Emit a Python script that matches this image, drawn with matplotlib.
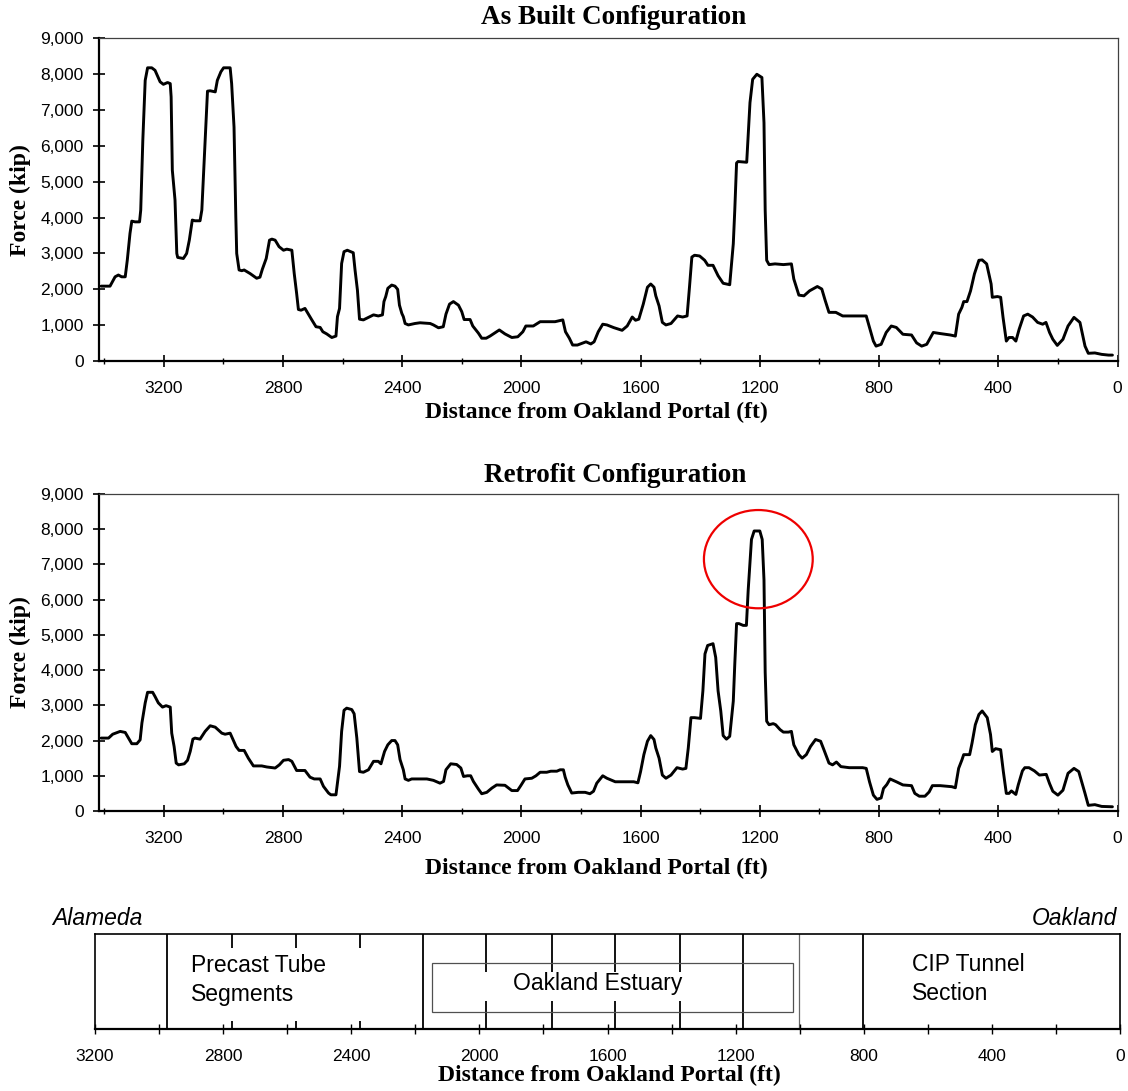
import matplotlib
matplotlib.use("Agg")
import matplotlib.pyplot as plt
from matplotlib.patches import Ellipse, Rectangle
from matplotlib.ticker import MultipleLocator, FuncFormatter

# ---------- Data ----------
# As built: distance from Oakland portal (ft) and force (kip)
AS_BUILT_FT = [
    3410, 3380, 3363, 3352, 3341, 3329, 3322, 3313, 3307, 3296, 3281, 3277, 3270, 3262, 3254,
    3240, 3229, 3212, 3201, 3187, 3178, 3175, 3171, 3162, 3156, 3153, 3134, 3123, 3114, 3104,
    3095, 3078, 3072, 3061, 3053, 3044, 3027, 3020, 3008, 2999, 2977, 2972, 2964, 2958, 2955,
    2947, 2938, 2930, 2910, 2888, 2877, 2869, 2856, 2845, 2837, 2826, 2813, 2798, 2787, 2770,
    2762, 2754, 2748, 2739, 2726, 2714, 2703, 2689, 2675, 2666, 2653, 2636, 2622, 2617, 2610,
    2603, 2595, 2584, 2564, 2558, 2550, 2543, 2530, 2513, 2496, 2480, 2466, 2461, 2455, 2448,
    2435, 2424, 2415, 2409, 2401, 2396, 2390, 2379, 2357, 2340, 2306, 2295, 2278, 2262, 2253,
    2241, 2228, 2211, 2200, 2192, 2172, 2163, 2144, 2133, 2118, 2105, 2074, 2055, 2032, 2012,
    1995, 1985, 1960, 1937, 1887, 1861, 1852, 1839, 1828, 1812, 1783, 1767, 1756, 1742, 1727,
    1713, 1690, 1662, 1645, 1628, 1617, 1606, 1591, 1577, 1566, 1555, 1549, 1538, 1527, 1515,
    1498, 1476, 1459, 1444, 1436, 1428, 1419, 1402, 1385, 1374, 1357, 1340, 1323, 1301, 1289,
    1284, 1278, 1273, 1244, 1239, 1233, 1224, 1210, 1193, 1186, 1182, 1177, 1169, 1149, 1121,
    1094, 1086, 1069, 1052, 1033, 1007, 992, 981, 968, 945, 922, 843, 832, 819, 810,
    793, 776, 759, 742, 720, 691, 674, 657, 640, 618, 595, 561, 544, 533, 522,
    516, 505, 493, 480, 465, 454, 439, 424, 420, 403, 392, 384, 373, 364, 352,
    341, 330, 315, 301, 285, 268, 251, 240, 228, 217, 202, 183, 166, 146, 126,
    109, 98, 76, 53, 30, 17,
]
AS_BUILT_KIP = [
    2090, 2090, 2350, 2400, 2350, 2350, 2820, 3560, 3900, 3880, 3880, 4210, 6150, 7820, 8170,
    8170, 8100, 7780, 7710, 7760, 7730, 7360, 5320, 4490, 3000, 2890, 2860, 3000, 3370, 3930,
    3910, 3910, 4210, 6150, 7520, 7530, 7500, 7820, 8060, 8170, 8170, 7730, 6520, 4020, 3000,
    2540, 2520, 2540, 2440, 2310, 2340, 2560, 2860, 3370, 3400, 3370, 3190, 3090, 3120, 3090,
    2440, 1890, 1440, 1420, 1470, 1300, 1150, 960, 940, 820, 760, 660, 700, 1240, 1470,
    2720, 3050, 3090, 3020, 2540, 1980, 1170, 1150, 1220, 1290, 1260, 1290, 1660, 1800, 2030,
    2120, 2090, 2000, 1560, 1330, 1240, 1050, 1010, 1050, 1070, 1050, 1010, 930, 960, 1310,
    1590, 1660, 1560, 1380, 1160, 1160, 980, 780, 640, 640, 700, 870, 760, 660, 680,
    820, 980, 980, 1100, 1100, 1150, 820, 640, 450, 450, 540, 480, 540, 820, 1030,
    1010, 935, 860, 980, 1230, 1140, 1170, 1590, 2060, 2150, 2060, 1820, 1540, 1080, 1010,
    1050, 1260, 1230, 1260, 2060, 2900, 2950, 2930, 2810, 2670, 2670, 2380, 2170, 2130, 3270,
    4210, 5520, 5560, 5540, 6270, 7200, 7850, 7990, 7900, 6640, 4210, 2810, 2690, 2710, 2690,
    2710, 2290, 1840, 1820, 1960, 2080, 2010, 1700, 1360, 1360, 1260, 1260, 940, 560, 420,
    470, 800, 980, 940, 750, 730, 510, 420, 470, 800, 770, 730, 700, 1310, 1500,
    1660, 1660, 1960, 2430, 2810, 2820, 2710, 2150, 1780, 1800, 1780, 1220, 560, 660, 660,
    560, 890, 1260, 1310, 1230, 1080, 1030, 1080, 800, 610, 440, 610, 980, 1220, 1080,
    420, 220, 230, 190, 170, 170,
]

# Retrofit
RETROFIT_FT = [
    3410, 3385, 3371, 3346, 3329, 3318, 3307, 3290, 3279, 3273, 3262, 3254, 3237, 3229, 3218,
    3204, 3192, 3178, 3173, 3165, 3158, 3150, 3131, 3120, 3111, 3102, 3095, 3078, 3061, 3044,
    3027, 3005, 2994, 2977, 2968, 2957, 2947, 2930, 2916, 2899, 2888, 2871, 2854, 2826, 2812,
    2798, 2781, 2770, 2754, 2726, 2709, 2695, 2675, 2664, 2647, 2639, 2622, 2617, 2610, 2603,
    2595, 2586, 2569, 2561, 2552, 2543, 2530, 2513, 2496, 2480, 2471, 2459, 2448, 2435, 2424,
    2415, 2407, 2396, 2390, 2379, 2368, 2317, 2295, 2273, 2261, 2253, 2237, 2217, 2203, 2194,
    2181, 2170, 2161, 2144, 2133, 2116, 2099, 2083, 2055, 2043, 2032, 2013, 2002, 1988, 1965,
    1951, 1937, 1915, 1901, 1881, 1870, 1859, 1853, 1844, 1831, 1809, 1786, 1770, 1758, 1747,
    1727, 1713, 1685, 1623, 1609, 1600, 1589, 1577, 1566, 1555, 1549, 1538, 1527, 1515, 1498,
    1478, 1459, 1448, 1440, 1431, 1419, 1399, 1391, 1384, 1375, 1357, 1348, 1340, 1331, 1323,
    1312, 1301, 1289, 1284, 1278, 1270, 1256, 1245, 1239, 1233, 1228, 1219, 1200, 1192, 1186,
    1182, 1177, 1169, 1155, 1147, 1132, 1121, 1104, 1094, 1086, 1069, 1058, 1044, 1030, 1013,
    996, 985, 968, 956, 943, 928, 900, 855, 843, 832, 819, 807, 793, 785, 774,
    763, 742, 720, 691, 680, 665, 646, 632, 621, 595, 556, 544, 533, 522, 516,
    496, 488, 477, 465, 454, 437, 426, 420, 409, 392, 383, 373, 364, 356, 341,
    333, 319, 311, 297, 279, 262, 239, 228, 217, 200, 183, 166, 146, 130, 109,
    98, 76, 53, 17,
]
RETROFIT_KIP = [
    2070, 2070, 2180, 2260, 2230, 2070, 1910, 1910, 2020, 2500, 3070, 3370, 3370, 3250, 3070,
    2950, 2990, 2950, 2210, 1830, 1360, 1310, 1340, 1440, 1690, 2040, 2070, 2040, 2260, 2420,
    2380, 2210, 2180, 2210, 2040, 1830, 1720, 1720, 1500, 1280, 1280, 1280, 1250, 1220, 1310,
    1440, 1460, 1410, 1150, 1150, 960, 910, 910, 700, 510, 460, 460, 790, 1270, 2260,
    2860, 2920, 2880, 2760, 2070, 1120, 1100, 1170, 1410, 1410, 1340, 1690, 1880, 2000, 2000,
    1880, 1460, 1170, 910, 870, 910, 910, 870, 790, 840, 1170, 1340, 1320, 1220, 980,
    1000, 1000, 840, 620, 490, 530, 650, 740, 730, 650, 580, 580, 720, 910, 930,
    1000, 1100, 1100, 1130, 1130, 1170, 1170, 960, 740, 510, 530, 530, 490, 560, 790,
    1000, 930, 830, 830, 800, 1120, 1600, 1980, 2140, 2030, 1790, 1500, 1020, 930, 1020,
    1230, 1190, 1210, 1790, 2650, 2650, 2630, 3410, 4460, 4700, 4750, 4360, 3410, 2840, 2140,
    2040, 2120, 3120, 4170, 5320, 5320, 5270, 5270, 6270, 7040, 7710, 7950, 7950, 7710, 6560,
    3940, 2550, 2450, 2480, 2450, 2310, 2240, 2240, 2260, 1880, 1600, 1500, 1600, 1830, 2030,
    1980, 1740, 1360, 1310, 1390, 1260, 1230, 1230, 1210, 830, 450, 330, 370, 640, 750,
    910, 830, 740, 720, 500, 420, 420, 540, 720, 720, 690, 660, 1210, 1450, 1600,
    1600, 1930, 2450, 2740, 2840, 2650, 2170, 1690, 1770, 1740, 1120, 500, 500, 570, 470,
    740, 1140, 1230, 1230, 1140, 1020, 1040, 780, 560, 450, 590, 1070, 1210, 1120, 500,
    160, 180, 130, 120,
]

# highlighted peak in the retrofit chart (centre ft, centre kip, width ft, height kip)
HIGHLIGHT = (1205, 7150, 365, 2790)

# tube schematic: segment joints (ft) and zones
JOINTS_FT = [2974, 2772, 2573, 2373, 2175, 1978, 1773, 1577, 1373, 1176, 1001, 802]
ESTUARY_FT = (2147, 1021)
ZONE_LABELS = ["Precast Tube\nSegments", "Oakland Estuary", "CIP Tunnel\nSection"]

# ---------- Config ----------
W, H = 1128, 1091
SANS = "Liberation Sans"
SERIF = "Liberation Serif"
TITLE_KW = dict(fontfamily=SERIF, fontweight="bold", fontsize=19.5)
LABEL_KW = dict(fontfamily=SERIF, fontweight="bold", fontsize=17)

plt.rcParams["font.family"] = [SANS, "DejaVu Sans"]
plt.rcParams["font.size"] = 12.5


def px_rect(left, top, right, bottom):
    return [left / W, 1 - bottom / H, (right - left) / W, (bottom - top) / H]


def style_force_axes(ax, title, title_xy, xlabel_xy):
    ax.set_xlim(3417, 0)
    ax.set_ylim(0, 9000)
    ax.xaxis.set_major_locator(MultipleLocator(400))
    ax.xaxis.set_minor_locator(MultipleLocator(200))
    ax.yaxis.set_major_locator(MultipleLocator(1000))
    ax.yaxis.set_major_formatter(FuncFormatter(lambda v, p: f"{int(v):,}"))
    ax.tick_params(axis="x", which="major", direction="inout", length=9, width=1.2, pad=10)
    ax.tick_params(axis="x", which="minor", direction="inout", length=5, width=1.0)
    ax.tick_params(axis="y", direction="inout", length=8, width=1.2, pad=7)
    for s in ("left", "bottom"):
        ax.spines[s].set_linewidth(1.6)
    for s in ("top", "right"):
        ax.spines[s].set_linewidth(0.9)
        ax.spines[s].set_color("#404040")
    ax.set_title(title, x=title_xy[0], y=title_xy[1], va="center", pad=0, **TITLE_KW)
    ax.set_xlabel("Distance from Oakland Portal (ft)", va="center", **LABEL_KW)
    ax.xaxis.set_label_coords(*xlabel_xy)
    ax.set_ylabel("Force (kip)", va="center", **LABEL_KW)
    ax.yaxis.set_label_coords(-0.0776, 0.5)


def draw_schematic(ax):
    ax.set_xlim(3200, 0)
    ax.set_ylim(0, 1)
    ax.set_yticks([])
    ax.xaxis.set_major_locator(MultipleLocator(400))
    ax.xaxis.set_minor_locator(MultipleLocator(200))
    ax.tick_params(axis="x", which="both", direction="inout", length=7, width=1.0, pad=11)
    for s in ax.spines.values():
        s.set_linewidth(1.2)
    ax.spines["bottom"].set_linewidth(1.6)

    for j in JOINTS_FT:
        thin = j == 1001
        ax.axvline(j, color="#666666" if thin else "black", lw=0.9 if thin else 1.3, zorder=1)

    # white text boxes hide the joint lines behind the labels
    ax.add_patch(Rectangle((2300, 0.084), 600, 0.77, facecolor="white", edgecolor="none", zorder=2))
    ax.add_patch(Rectangle((1290, 0.30), 700, 0.30, facecolor="white", edgecolor="none", zorder=2))
    ax.add_patch(Rectangle((ESTUARY_FT[1], 0.174), ESTUARY_FT[0] - ESTUARY_FT[1], 0.526,
                           facecolor="none", edgecolor="#505050", lw=0.9, zorder=3))

    ax.text(2900, 0.516, ZONE_LABELS[0], ha="left", va="center", fontsize=16.5,
            linespacing=1.35, zorder=4)
    ax.text(1632, 0.484, ZONE_LABELS[1], ha="center", va="center", fontsize=16.5, zorder=4)
    ax.text(649, 0.526, ZONE_LABELS[2], ha="left", va="center", fontsize=16.5,
            linespacing=1.35, zorder=4)

    ax.text(-0.0415, 1.166, "Alameda", transform=ax.transAxes, ha="left", va="center",
            fontsize=16.5, style="italic")
    ax.text(0.997, 1.166, "Oakland", transform=ax.transAxes, ha="right", va="center",
            fontsize=16.5, style="italic")
    ax.set_xlabel("Distance from Oakland Portal (ft)", va="center", **LABEL_KW)
    ax.xaxis.set_label_coords(0.5015, -0.484)


# ---------- Plot ----------
fig = plt.figure(figsize=(W / 100, H / 100), dpi=100)
line_kw = dict(color="black", lw=2.1, solid_joinstyle="round", solid_capstyle="round")

ax1 = fig.add_axes(px_rect(99, 38, 1117.5, 361.2))
ax1.plot(AS_BUILT_FT, AS_BUILT_KIP, **line_kw)
style_force_axes(ax1, "As Built Configuration", (0.5057, 1.062), (0.4887, -0.160))

ax2 = fig.add_axes(px_rect(99, 494, 1117.5, 811))
ax2.plot(RETROFIT_FT, RETROFIT_KIP, **line_kw)
style_force_axes(ax2, "Retrofit Configuration", (0.507, 1.057), (0.4887, -0.180))
cx, cy, ew, eh = HIGHLIGHT
ax2.add_patch(Ellipse((cx, cy), ew, eh, fill=False, edgecolor="#ee0000", lw=1.6, zorder=5))

ax3 = fig.add_axes(px_rect(95, 934, 1120, 1029))
draw_schematic(ax3)

fig.savefig("out.png", dpi=100)
